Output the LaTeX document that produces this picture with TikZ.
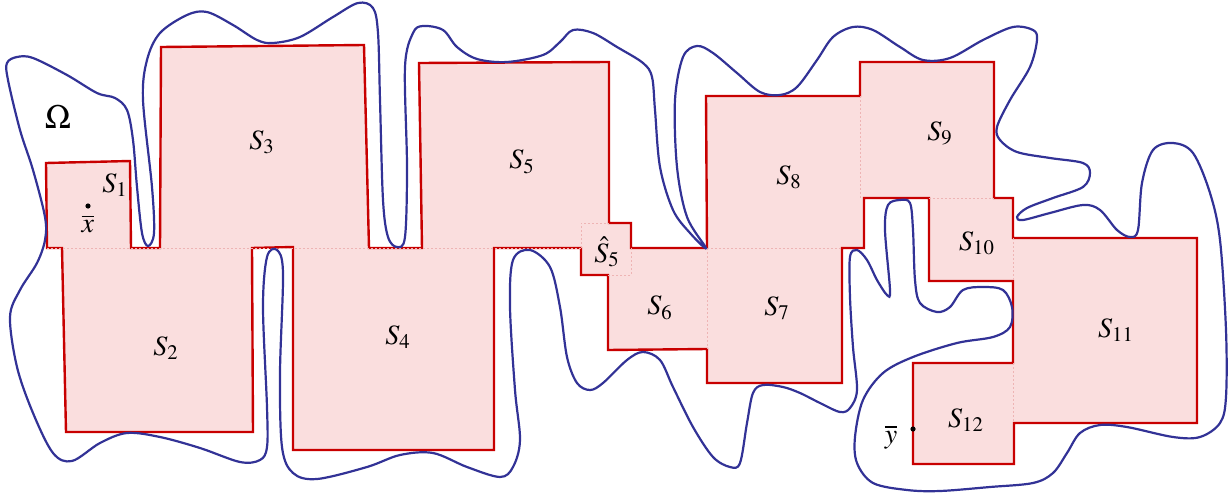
\documentclass[tikz,border=0pt]{standalone}
\usepackage{mathptmx}
\definecolor{bordred}{RGB}{200,0,0}
\definecolor{omblue}{RGB}{50,50,150}
\definecolor{cellpink}{RGB}{250,222,222}
\definecolor{gridpink}{RGB}{238,180,180}
\tikzset{
    cell/.style={draw=bordred,line width=1.2pt,fill=cellpink,line join=miter},
    seam/.style={draw=gridpink,line width=0.4pt,dash pattern=on 1pt off 1pt},
    lbl/.style={inner sep=0pt,font=\fontsize{14}{16}\selectfont},
    omega/.style={draw=omblue,line width=1.1pt}
}
\begin{document}
\begin{tikzpicture}[x=0.5pt,y=-0.5pt]
    \useasboundingbox (0,0) rectangle (1228,493);

    % union of the squares
    \path[cell] (46,163) -- (130,161) -- (131,248) -- (160,248) -- (161,47) -- (364,45)
        -- (369,248) -- (422,248) -- (419,63) -- (609,62) -- (609,223) -- (631,223)
        -- (631,248) -- (707,248) -- (706,96) -- (860,96) -- (860,62) -- (994,62)
        -- (994,198) -- (1013,198) -- (1013,238) -- (1197,238) -- (1197,423) -- (1014,423)
        -- (1014,464) -- (913,464) -- (913,363) -- (1013,363) -- (1013,281) -- (929,281)
        -- (929,198) -- (864,198) -- (864,248) -- (842,248) -- (842,383) -- (707,383)
        -- (707,349) -- (608,350) -- (608,275) -- (581,275) -- (581,248) -- (494,248)
        -- (494,450) -- (293,450) -- (293,247) -- (252,248) -- (253,432) -- (66,432)
        -- (62,248) -- (47,248) -- cycle;

    % seams between neighbouring squares
    \draw[seam] (47,248) -- (581,248);
    \draw[seam] (581,248) -- (581,223) -- (609,223);
    \draw[seam] (631,248) -- (631,275) -- (608,275);
    \draw[seam] (707,248) -- (707,349);
    \draw[seam] (707,248) -- (842,248);
    \draw[seam] (860,96) -- (860,198);
    \draw[seam] (929,198) -- (994,198);
    \draw[seam] (1013,238) -- (1013,281);
    \draw[seam] (1013,363) -- (1013,423);

    % the domain
    \draw[omega] plot[smooth cycle,tension=0.55] coordinates {
        (7,63) (17,57) (33,58) (67,75) (97,93) (115,98) (127,110) (133,140) (137,187)
        (142,233) (148,246) (154,233) (152,187) (143,100) (147,60) (160,33) (187,15)
        (207,12) (233,25) (257,40) (273,43) (300,37) (333,17) (358,3) (373,8) (378,33)
        (380,100) (383,200) (388,237) (397,247) (405,237) (407,167) (405,67) (413,33)
        (423,26) (443,30) (457,47) (477,59) (507,62) (543,55) (560,42) (573,30) (593,33)
        (617,47) (643,63) (652,77) (655,110) (660,167) (673,210) (690,233) (706,248)
        (687,217) (677,167) (675,100) (683,57) (697,46) (713,53) (737,73) (760,92)
        (780,95) (797,87) (817,60) (833,37) (853,27) (873,30) (900,47) (923,60) (950,58)
        (983,40) (1013,27) (1033,30) (1037,40) (1030,67) (1010,100) (997,127) (1000,140)
        (1017,152) (1050,158) (1083,163) (1090,173) (1083,187) (1053,198) (1027,208)
        (1017,217) (1023,220) (1050,213) (1083,205) (1100,210) (1117,230) (1130,237)
        (1138,230) (1142,183) (1153,150) (1173,143) (1193,153) (1210,193) (1220,240)
        (1226,330) (1226,397) (1220,423) (1200,437) (1173,437) (1127,427) (1100,425)
        (1080,433) (1067,453) (1053,473) (1033,483) (990,487) (940,491) (907,490)
        (873,483) (857,463) (855,437) (863,400) (883,373) (913,357) (957,343) (993,337)
        (1010,327) (1012,307) (1003,290) (983,287) (963,290) (950,307) (937,312)
        (920,303) (915,280) (913,230) (910,203) (900,200) (888,205) (885,230) (890,290)
        (887,295) (877,280) (867,260) (857,250) (850,257) (850,297) (853,347) (857,390)
        (850,408) (840,412) (820,403) (800,393) (783,387) (763,385) (753,393) (747,423)
        (740,463) (730,467) (713,457) (693,427) (673,387) (660,360) (643,352) (627,360)
        (603,383) (590,390) (577,383) (567,357) (560,307) (550,267) (530,250) (513,260)
        (510,307) (515,390) (520,440) (513,467) (500,477) (467,467) (433,453) (400,455)
        (367,467) (317,479) (293,473) (282,447) (280,373) (283,273) (277,250) (267,257)
        (263,307) (267,407) (267,447) (260,460) (240,462) (200,448) (160,437) (127,433)
        (100,443) (72,461) (53,453) (33,413) (17,367) (10,317) (20,290) (37,263)
        (45,240) (45,217) (33,170) (20,130) (8,80)
    };

    % labels
    \node[lbl] (om) at (58,117) {\fontsize{17}{19}\selectfont$\Omega$};
    \node[lbl] (s1) at (115,185) {$S_1$};
    \node[lbl] (s2) at (166,348) {$S_2$};
    \node[lbl] (s3) at (262,142) {$S_3$};
    \node[lbl] (s4) at (398,337) {$S_4$};
    \node[lbl] (s5) at (522,162) {$S_5$};
    \node[lbl] (s5h) at (607,252) {$\hat{S}_5$};
    \node[lbl] (s6) at (660,308) {$S_6$};
    \node[lbl] (s7) at (777,308) {$S_7$};
    \node[lbl] (s8) at (789,177) {$S_8$};
    \node[lbl] (s9) at (940,133) {$S_9$};
    \node[lbl] (s10) at (977,243) {$S_{10}$};
    \node[lbl] (s11) at (1116,330) {$S_{11}$};
    \node[lbl] (s12) at (966,420) {$S_{12}$};

    % the two points
    \coordinate (xpt) at (88,206);
    \coordinate (ypt) at (913,429);
    \fill (xpt) circle[radius=1.3pt];
    \fill (ypt) circle[radius=1.3pt];
    \node[lbl] (xlbl) at ([yshift=-9pt]xpt) {$\overline{x}$};
    \node[lbl] (ylbl) at ([xshift=-11pt,yshift=-4pt]ypt) {$\overline{y}$};
\end{tikzpicture}
\end{document}
